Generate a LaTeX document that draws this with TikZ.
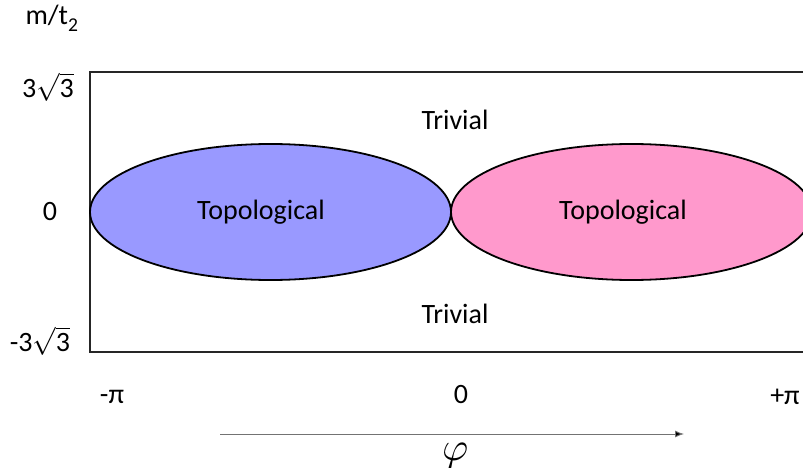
\documentclass[tikz,border=0pt]{standalone}
\usepackage{fontspec}
\usepackage{unicode-math}
\setmainfont{Carlito}
\setmathfont{Latin Modern Math}
\usetikzlibrary{arrows.meta}
\definecolor{blueish}{HTML}{9999FF}
\definecolor{pinkish}{HTML}{FF99CC}
\begin{document}
\begin{tikzpicture}[x=1pt,y=-1pt,
  lbl/.style={inner sep=0pt,font=\fontsize{28}{32}\selectfont},
  phase/.style={draw=black,line width=1.8pt}]
\useasboundingbox (0,0) rectangle (803,468);
\clip (0,0) rectangle (803,468);
\draw[line width=1.6pt,draw=black!85] (90,72) rectangle (840,352);
\draw[phase,fill=blueish] (270.5,212) ellipse [x radius=180.5, y radius=68];
\draw[phase,fill=pinkish] (631.5,212) ellipse [x radius=180.5, y radius=68];
\node[lbl] (topA) at (261,212) {Topological};
\node[lbl] (topB) at (623,212) {Topological};
\node[lbl] (trivA) at (455,120) {Trivial};
\node[lbl] (trivB) at (455,314) {Trivial};
\node[lbl] (ylab) at (52,18) {m/t\textsubscript{2}};
\node[lbl] (ytop) at (48,87) {3$\sqrt{\mbox{3}}$};
\node[lbl] (yzero) at (50,212) {0};
\node[lbl] (ybot) at (40,341) {-3$\sqrt{\mbox{3}}$};
\node[lbl] (xl) at (112,397) {-π};
\node[lbl] (xm) at (461,395) {0};
\node[lbl] (xr) at (785,397) {+π};
\coordinate (as) at (220,434);
\coordinate (ae) at (684,434);
\draw[draw=black!55,line width=0.9pt,-{Latex[length=9pt,width=7pt,fill=black]}] (as) -- (ae);
\node[inner sep=0pt] (phi) at (456,456) {\scalebox{4}{$\varphi$}};
\end{tikzpicture}
\end{document}
